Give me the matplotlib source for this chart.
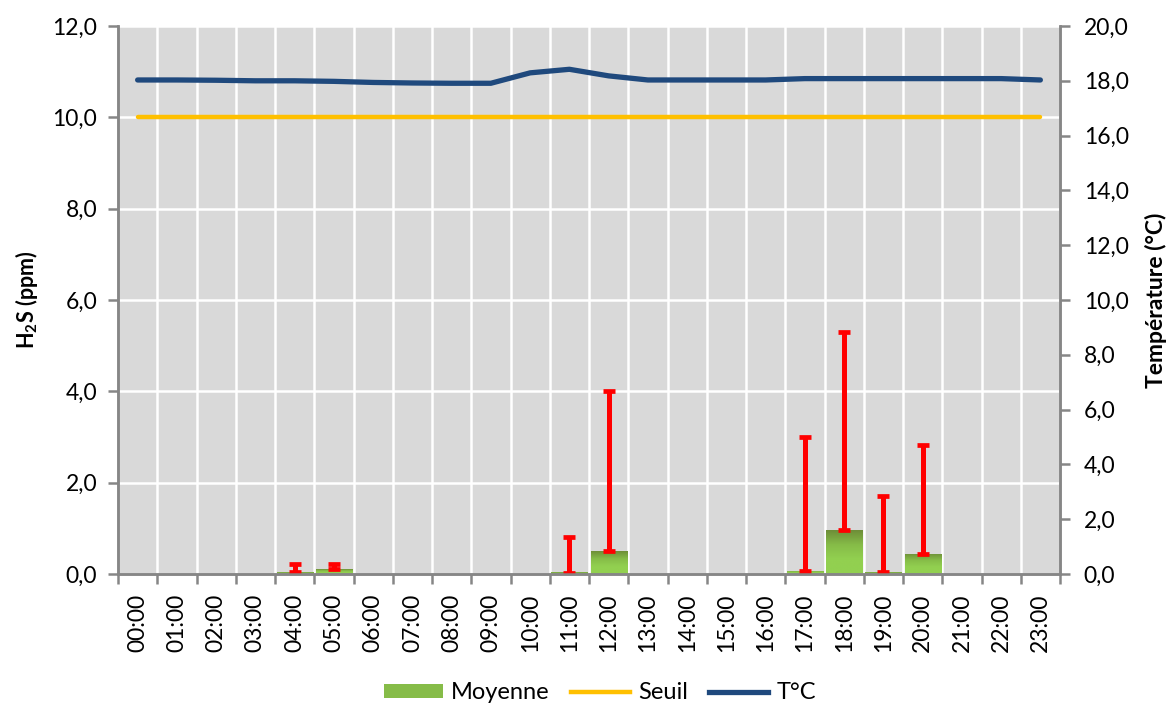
import numpy as np
import matplotlib
matplotlib.use("Agg")
import matplotlib.pyplot as plt
from matplotlib.ticker import FuncFormatter, FixedLocator
from matplotlib.patches import Patch
from matplotlib.lines import Line2D
from matplotlib.colors import LinearSegmentedColormap

plt.rcParams['font.family'] = ['Lato', 'DejaVu Sans']
plt.rcParams['mathtext.fontset'] = 'custom'
plt.rcParams['mathtext.rm'] = 'Lato'
plt.rcParams['mathtext.bf'] = 'Lato:bold'

hours = ["00:00", "01:00", "02:00", "03:00", "04:00", "05:00", "06:00", "07:00",
         "08:00", "09:00", "10:00", "11:00", "12:00", "13:00", "14:00", "15:00",
         "16:00", "17:00", "18:00", "19:00", "20:00", "21:00", "22:00", "23:00"]
moyenne = [0, 0, 0, 0, 0.04, 0.10, 0, 0, 0, 0, 0, 0.04, 0.50, 0, 0, 0,
           0, 0.07, 0.96, 0.04, 0.44, 0, 0, 0]
h2s_min = [np.nan, np.nan, np.nan, np.nan, 0.05, 0.10, np.nan, np.nan, np.nan, np.nan, np.nan, 0.03,
           0.50, np.nan, np.nan, np.nan, np.nan, 0.07, 0.97, 0.05, 0.44, np.nan, np.nan, np.nan]
h2s_max = [np.nan, np.nan, np.nan, np.nan, 0.21, 0.21, np.nan, np.nan, np.nan, np.nan, np.nan, 0.80,
           4.00, np.nan, np.nan, np.nan, np.nan, 3.00, 5.31, 1.70, 2.82, np.nan, np.nan, np.nan]
seuil = [10.0] * 24
temperature = [18.03, 18.03, 18.02, 18.00, 18.00, 17.98, 17.94, 17.92, 17.91, 17.91, 18.29, 18.42,
               18.18, 18.03, 18.03, 18.03, 18.03, 18.08, 18.08, 18.08, 18.08, 18.08, 18.08, 18.03]

fig = plt.figure(figsize=(11.76, 7.07), dpi=100)
ax = fig.add_axes([118/1176, 1-574/707, (1060-118)/1176, (574-26)/707])
ax2 = ax.twinx()

x = np.arange(len(hours))
gray = "#868686"
ax.set_facecolor("#D9D9D9")
ax.set_xlim(-0.5, len(hours) - 0.5)
ax.set_ylim(0, 12)
ax2.set_ylim(0, 20)

# grid
ax.set_axisbelow(True)
ax.xaxis.set_major_locator(FixedLocator(np.arange(-0.5, len(hours), 1.0)))
ax.xaxis.set_minor_locator(FixedLocator(x))
ax.xaxis.set_major_formatter(FuncFormatter(lambda v, p: ""))
ax.set_xticks(x, minor=True)
ax.set_xticklabels(hours, minor=True, rotation=90, fontsize=16.5)
ax.tick_params(axis='x', which='minor', length=0, pad=14)
ax.tick_params(axis='x', which='major', length=7, width=1.8, color=gray, direction='out')
ax.grid(True, which='major', axis='both', color='white', linewidth=1.8, zorder=0)

ax.set_yticks(np.arange(0, 12.01, 2))
ax.yaxis.set_major_formatter(FuncFormatter(lambda v, p: f"{v:.1f}".replace('.', ',')))
ax.tick_params(axis='y', length=7, width=1.8, color=gray, direction='out', labelsize=16.5, pad=8)
ax2.set_yticks(np.arange(0, 20.01, 2))
ax2.yaxis.set_major_formatter(FuncFormatter(lambda v, p: f"{v:.1f}".replace('.', ',')))
ax2.tick_params(axis='y', length=7, width=1.8, color=gray, direction='out', labelsize=16.5, pad=10)

for a in (ax, ax2):
    a.spines['top'].set_visible(False)
    for s in ('left', 'bottom', 'right'):
        a.spines[s].set_color(gray)
        a.spines[s].set_linewidth(1.8)

# bars with gradient
cmap = LinearSegmentedColormap.from_list("g", ["#92D050", "#92D050", "#86BC48", "#6E8E38"])
grad = np.linspace(0, 1, 100).reshape(-1, 1)
bw = 0.92
bars = ax.bar(x, moyenne, width=bw, color="#92D050", zorder=2, linewidth=0)
for b, v in zip(bars, moyenne):
    if v > 0:
        im = ax.imshow(grad, extent=[b.get_x(), b.get_x() + bw, 0, v], origin='lower',
                       aspect='auto', cmap=cmap, zorder=2.1)
        im.set_clip_path(b)

# min / max ranges
mn = np.array(h2s_min)
mx = np.array(h2s_max)
ax.errorbar(x, mn, yerr=[np.zeros_like(mn), mx - mn], fmt='none', ecolor='#FF0000',
            elinewidth=3.6, capsize=4.6, capthick=3.4, zorder=3)

ax.set_xlim(-0.5, len(hours) - 0.5)
ax.set_ylim(0, 12)

# lines
ax2.plot(x, [s * 20 / 12 for s in seuil], color="#FFC000", linewidth=3.2,
         solid_capstyle='round', zorder=4)
ax2.plot(x, temperature, color="#1F497D", linewidth=3.8, solid_capstyle='round', zorder=5)
ax2.set_ylim(0, 20)

ax.set_ylabel("H$_\\mathbf{2}$S (ppm)", fontsize=15.5, fontweight='bold', labelpad=9)
ax2.set_ylabel("Température (°C)", fontsize=16.5, fontweight='bold', labelpad=12)

handles = [Patch(facecolor="#86BC48", edgecolor='none'),
           Line2D([], [], color="#FFC000", linewidth=3.2),
           Line2D([], [], color="#1F497D", linewidth=3.8)]
fig.legend(handles, ["Moyenne", "Seuil", "T°C"], loc='center', bbox_to_anchor=(0.51, 0.02),
           ncol=3, frameon=False, fontsize=17, handlelength=2.5, handleheight=0.5,
           handletextpad=0.35, columnspacing=0.9)

fig.savefig("out.png", dpi=100)
